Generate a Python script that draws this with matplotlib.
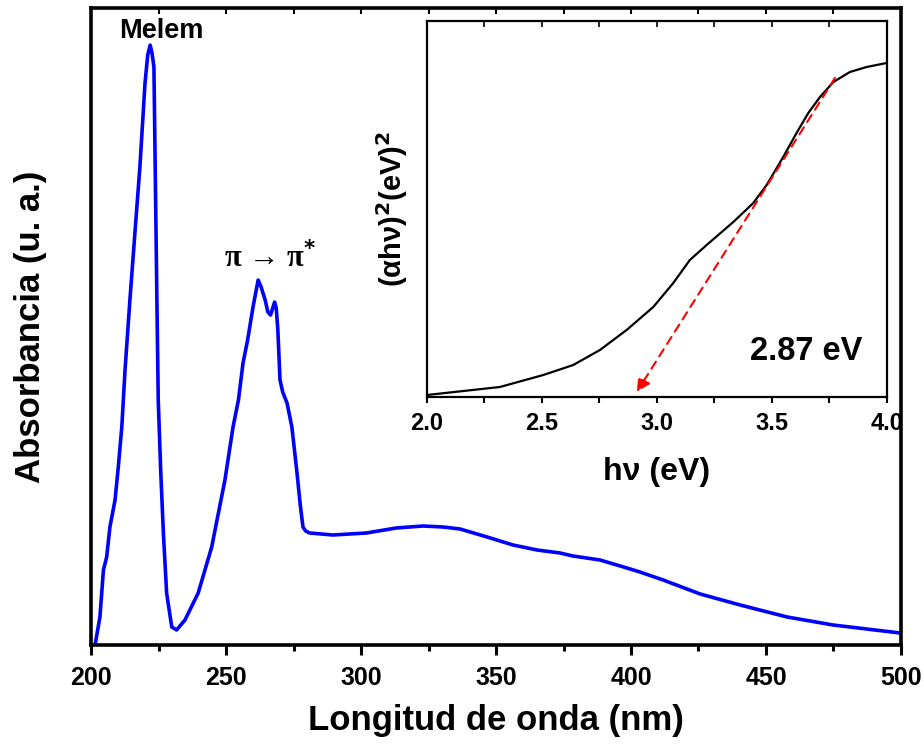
import matplotlib
matplotlib.use('Agg')
import matplotlib.pyplot as plt
from matplotlib.ticker import MultipleLocator, NullLocator, NullFormatter

plt.rcParams['font.family'] = ['Liberation Sans', 'DejaVu Sans']
plt.rcParams['font.weight'] = 'bold'

# espectro UV-vis (u. a.)
wavelength = [201.5, 203.3, 204.6, 205.8, 207.0, 208.9, 210.1, 211.4, 212.6, 214.4,
              216.2, 218.1, 220.0, 221.0, 221.9, 222.6, 223.3, 224.4, 224.9, 225.8,
              226.8, 228.0, 229.9, 231.7, 234.8, 239.7, 244.7, 249.6, 252.6, 254.6,
              256.3, 258.0, 260.0, 261.9, 263.0, 264.5, 265.5, 266.5, 267.3, 268.0,
              268.6, 269.2, 270.0, 271.0, 272.6, 274.4, 276.3, 277.5, 278.5, 279.5,
              281.0, 289.6, 302.0, 313.0, 323.0, 330.4, 336.7, 346.7, 356.3, 365.2,
              373.7, 378.5, 388.5, 396.0, 403.3, 411.9, 425.6, 440.4, 457.8, 474.8,
              499.6]
absorbance = [0.00, 0.28, 0.75, 0.88, 1.18, 1.45, 1.78, 2.18, 2.75, 3.45,
              4.10, 4.78, 5.62, 5.90, 6.00, 5.92, 5.78, 3.45, 2.45, 1.75,
              1.12, 0.52, 0.18, 0.15, 0.25, 0.52, 0.98, 1.65, 2.18, 2.45,
              2.82, 3.05, 3.38, 3.65, 3.58, 3.45, 3.33, 3.30, 3.37, 3.43,
              3.37, 3.15, 2.65, 2.53, 2.42, 2.18, 1.72, 1.40, 1.18, 1.14,
              1.12, 1.10, 1.12, 1.17, 1.19, 1.18, 1.16, 1.08, 1.00, 0.95,
              0.92, 0.89, 0.85, 0.79, 0.73, 0.65, 0.51, 0.40, 0.28, 0.20,
              0.12]

# grafico de Tauc
energy = [2.0, 2.317, 2.506, 2.636, 2.752, 2.868, 2.984, 3.071, 3.143, 3.216,
          3.332, 3.419, 3.477, 3.549, 3.607, 3.658, 3.709, 3.767, 3.839, 3.912, 3.999]
tauc = [0.02, 0.10, 0.22, 0.32, 0.47, 0.67, 0.90, 1.14, 1.37, 1.52,
        1.75, 1.94, 2.12, 2.40, 2.64, 2.84, 3.00, 3.15, 3.25, 3.30, 3.34]
fit_start = (3.774, 3.19)
fit_end = (2.912, 0.05)
band_gap = '2.87 eV'

fig = plt.figure(figsize=(9.24, 7.44), dpi=100)
ax = fig.add_axes([0.0985, 0.1331, 0.8766, 0.856])
ax.plot(wavelength, absorbance, color='#0000ff', lw=2.6)
ax.set_xlim(200, 500)
ax.set_ylim(0, 6.37)
ax.xaxis.set_major_locator(MultipleLocator(50))
ax.xaxis.set_minor_locator(MultipleLocator(25))
ax.yaxis.set_major_locator(NullLocator())
ax.tick_params(axis='x', which='major', direction='out', length=7, width=2.2,
               labelsize=18, pad=8)
ax.tick_params(axis='x', which='minor', direction='out', length=4, width=2.2)
for lab in ax.get_xticklabels():
    lab.set_fontweight('bold')
for s in ax.spines.values():
    s.set_linewidth(2.6)
# marcas arriba hacia dentro
top = ax.secondary_xaxis('top')
top.xaxis.set_major_locator(MultipleLocator(25))
top.xaxis.set_major_formatter(NullFormatter())
top.tick_params(direction='in', length=4, width=1.5)
top.spines['top'].set_visible(False)
ax.set_xlabel('Longitud de onda (nm)', fontsize=25, fontweight='bold', labelpad=10)
ax.set_ylabel('Absorbancia (u. a.)', fontsize=25, fontweight='bold', labelpad=32)

ax.text(226.1, 6.14, 'Melem', ha='center', va='center', fontsize=19.5, fontweight='bold')
ax.text(266.3, 3.87, 'π → π$^{*}$', ha='center', va='center', fontsize=22,
        family=['Liberation Serif', 'DejaVu Serif'], fontweight='bold')

ins = fig.add_axes([0.4621, 0.4664, 0.4978, 0.5054])
ins.plot(energy, tauc, color='black', lw=1.6)
ins.set_xlim(2.0, 4.0)
ins.set_ylim(0, 3.76)
ins.xaxis.set_major_locator(MultipleLocator(0.5))
ins.xaxis.set_minor_locator(MultipleLocator(0.25))
ins.yaxis.set_major_locator(NullLocator())
ins.tick_params(axis='x', which='both', direction='out', length=4, width=1.5,
                labelsize=17, pad=7)
for lab in ins.get_xticklabels():
    lab.set_fontweight('bold')
for s in ins.spines.values():
    s.set_linewidth(1.6)
itop = ins.secondary_xaxis('top')
itop.xaxis.set_major_locator(MultipleLocator(0.25))
itop.xaxis.set_major_formatter(NullFormatter())
itop.tick_params(direction='in', length=4, width=1.2)
itop.spines['top'].set_visible(False)
ins.set_xlabel('hν (eV)', fontsize=23, fontweight='bold', labelpad=16)
ins.set_ylabel('(αhν)$^{2}$(eV)$^{2}$', fontsize=21, fontweight='bold', labelpad=12)
ins.annotate('', xy=fit_end, xytext=fit_start,
             arrowprops=dict(arrowstyle='-|>', color='red', lw=1.5, linestyle=(0, (4, 3)),
                             mutation_scale=20, shrinkA=0, shrinkB=0))
ins.text(0.824, 0.12, band_gap, transform=ins.transAxes, ha='center', va='center',
         fontsize=23.5, fontweight='bold')

fig.savefig('out.png', dpi=100)
